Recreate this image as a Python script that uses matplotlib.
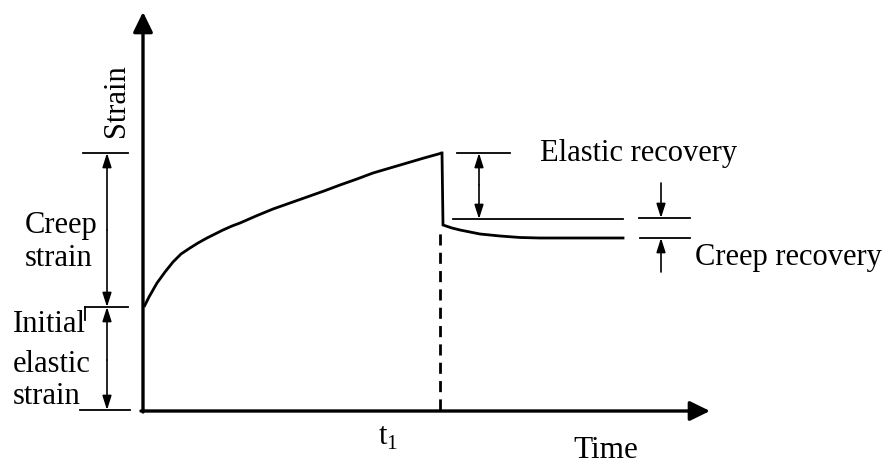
"""
Creep and recovery curve (schematic strain vs time), redrawn as a flat
line diagram. Serif text, black ink, no frame.
"""
import numpy as np
import matplotlib
matplotlib.use("Agg")
import matplotlib.pyplot as plt

plt.rcParams.update({
    "font.family": "serif",
    "font.serif": ["Liberation Serif", "DejaVu Serif"],
})

INK = "black"

# ---- values (time, strain in arbitrary units) ----
creep_t = [0, 5, 13, 21, 29, 37, 46, 54, 63, 71, 79, 88, 96, 112, 129,
           146, 163, 180, 196, 213, 229, 246, 263, 280, 298]
creep_s = [103, 113, 127, 138, 148, 156, 162, 167, 172, 176, 180, 184, 187,
           194, 201, 207, 213, 219, 225, 231, 237, 242, 247, 252, 257]
rec_t = [298, 299, 308, 316, 326, 336, 346, 356, 376, 396, 479]
rec_s = [257, 185, 182, 180, 178, 176, 175, 174, 172.5, 172, 172]

t1 = 298                 # unloading time
t1_label = 240           # where the t1 tick text sits
initial_strain = 103
peak_strain = 257
after_elastic = 191      # level after the elastic recovery
final_strain = 172       # level after creep recovery

# ---- figure on a flat canvas ----
fig = plt.figure(figsize=(8.91, 4.66), dpi=100)
ax = fig.add_axes([0, 0, 1, 1])
ax.set_xlim(-144, 747)
ax.set_ylim(-56, 410)
ax.axis("off")

def arrow(x0, y0, x1, y1, style="-|>", ms=17, hl=0.5, hw=0.16, lw=1.2):
    ax.annotate("", xy=(x1, y1), xytext=(x0, y0),
                arrowprops=dict(arrowstyle=f"{style},head_length={hl},head_width={hw}",
                                mutation_scale=ms, lw=lw, color=INK,
                                shrinkA=0, shrinkB=0))

# axes with arrowheads
arrow(-1, -2, -1, 398, ms=27, hl=0.45, hw=0.22, lw=2.4)
arrow(-3, -1, 566, -1, ms=27, hl=0.45, hw=0.22, lw=2.4)

# creep then recovery
ax.plot(creep_t, creep_s, color=INK, lw=2.0, solid_capstyle="butt")
ax.plot(rec_t, rec_s, color=INK, lw=2.0, solid_joinstyle="miter")
ax.plot([t1 - 2, t1 - 2], [0, rec_s[1] - 3], color=INK, lw=2.0,
        dashes=(4, 2.6))

# left dimension lines
ax.plot([-61, -16], [peak_strain, peak_strain], color=INK, lw=1.3)
ax.plot([-59, -16], [initial_strain, initial_strain], color=INK, lw=1.3)
ax.plot([-59, -59], [initial_strain, initial_strain - 13], color=INK, lw=1.3)
ax.plot([-64, -14], [0, 0], color=INK, lw=1.3)
arrow(-37, 180, -37, peak_strain)
arrow(-37, 180, -37, initial_strain)
arrow(-37, 50, -37, initial_strain)
arrow(-37, 50, -37, 0)

# elastic recovery
ax.plot([313, 366], [peak_strain, peak_strain], color=INK, lw=1.3)
ax.plot([309, 479], [after_elastic, after_elastic], color=INK, lw=1.3)
arrow(335, 225, 335, peak_strain)
arrow(335, 225, 335, after_elastic)

# creep recovery
ax.plot([495, 546], [after_elastic + 1, after_elastic + 1], color=INK, lw=1.3)
ax.plot([496, 546], [final_strain, final_strain], color=INK, lw=1.3)
arrow(517, 227, 517, after_elastic + 1)
arrow(517, 138, 517, final_strain)

# labels
FS = 22
ax.text(-27, 309, "Strain", rotation=90, fontsize=FS, ha="center", va="center")
ax.text(-119, 184, "Creep", fontsize=FS, ha="left", va="center")
ax.text(-119, 152, "strain", fontsize=FS, ha="left", va="center")
ax.text(-131, 85, "Initial", fontsize=FS, ha="left", va="center")
ax.text(-131, 45, "elastic", fontsize=FS, ha="left", va="center")
ax.text(-131, 13, "strain", fontsize=FS, ha="left", va="center")
ax.text(396, 256, "Elastic recovery", fontsize=FS, ha="left", va="center")
ax.text(551, 153, "Creep recovery", fontsize=FS, ha="left", va="center")
ax.text(t1_label - 6, -27, r"t$_\mathregular{1}$", fontsize=FS, ha="left",
        va="center")
ax.text(429, -40, "Time", fontsize=22.5, ha="left", va="center")

fig.savefig("out.png", dpi=100, facecolor="white")
